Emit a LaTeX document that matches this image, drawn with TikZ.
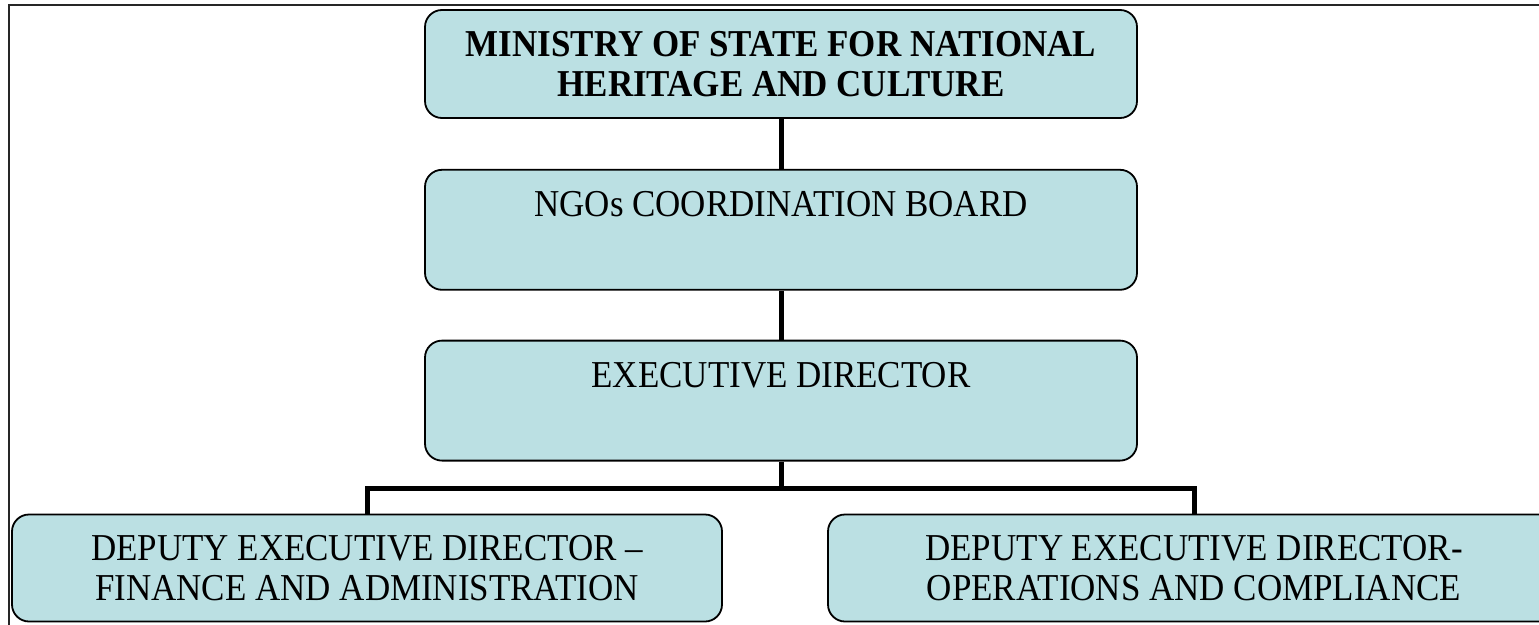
\documentclass[tikz,border=0pt]{standalone}
\usepackage{fontspec}
\setmainfont{Liberation Serif}[FakeStretch=0.92]
\usepackage{tikz}
\usetikzlibrary{positioning}
\definecolor{boxblue}{RGB}{187,224,227}

\begin{document}
\begin{tikzpicture}[x=1pt,y=-1pt,node distance=50pt]

			\tikzstyle{every node}=[font=\fontsize{38}{40}\selectfont]
			\tikzstyle{orgbox}=[draw,line width=1.8pt,rounded corners=17pt,fill=boxblue,align=center,minimum width=712pt,minimum height=120pt]
			\tikzstyle{link}=[line width=5pt]

			\clip (0,0) rectangle (1539,624);
			\useasboundingbox (0,0) rectangle (1539,624);
			\draw[line width=2pt,black!85] (9,5) rectangle (1600,700);

			\node[orgbox,minimum height=108pt,font=\fontsize{38}{40}\selectfont\bfseries] (ministry) at (781,64) {MINISTRY OF STATE FOR NATIONAL\\HERITAGE AND CULTURE};
			\node[orgbox,below=50pt of ministry] (board) {NGOs COORDINATION BOARD\\\strut};
			\node[orgbox,below=49pt of board] (exec) {EXECUTIVE DIRECTOR\\\strut};
			\node[orgbox,minimum width=710pt,minimum height=107pt] (finance) at (367,568) {DEPUTY EXECUTIVE DIRECTOR --\\FINANCE AND ADMINISTRATION};
			\node[orgbox,minimum width=732pt,minimum height=107pt] (operations) at (1194,568) {DEPUTY EXECUTIVE DIRECTOR-\\OPERATIONS AND COMPLIANCE};

			\coordinate (split) at (781,488);
			\draw[link] (ministry) -- (board);
			\draw[link] (board) -- (exec);
			\draw[link] (exec) -- (split);
			\draw[link] (split) -| (finance);
			\draw[link] (split) -| (operations);
			\end{tikzpicture}
\end{document}
